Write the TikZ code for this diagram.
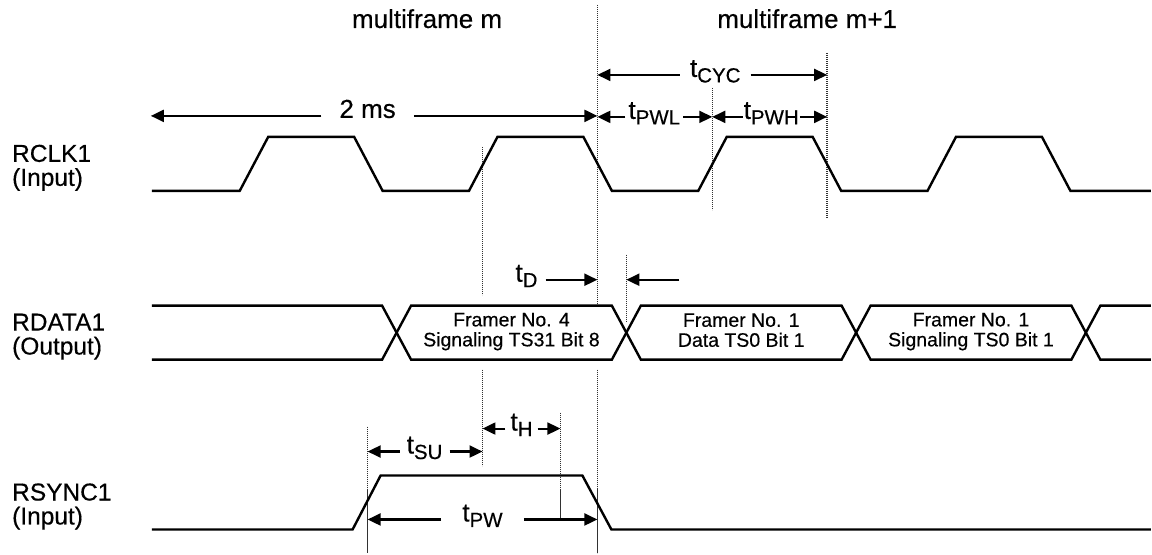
\documentclass[tikz,border=0pt]{standalone}
\usepackage{fontspec}
\setmainfont{Liberation Sans}[FakeBold=0.4]
\usepackage{tikz}
\usetikzlibrary{arrows.meta}
\definecolor{guide-grey}{RGB}{50,50,50}
\tikzstyle{sig}=[line width=2.4pt,line join=miter]
\tikzstyle{guide}=[line width=1.5pt,draw=guide-grey,dash pattern=on 1.2pt off 0.8pt]
\tikzstyle{dim}=[line width=2.1pt,-{Triangle[length=13pt,width=12pt]}]
\tikzstyle{big}=[font=\fontsize{26}{30}\selectfont,anchor=base]
\tikzstyle{tag}=[font=\fontsize{24.5}{24}\selectfont,align=left,anchor=west,inner sep=0pt]
\tikzstyle{cell}=[font=\fontsize{19.5}{20}\selectfont,align=center,inner sep=0pt]
\tikzstyle{tl}=[font=\fontsize{26}{30}\selectfont,anchor=base,inner ysep=0pt]
\newcommand{\tlab}[1]{t\raisebox{-5.5pt}{\fontsize{20.5}{20}\selectfont #1}}

\begin{document}
\begin{tikzpicture}[x=1pt,y=-1pt]
    \fill[white] (0,0) rectangle (1152,554);

    % guides
    \draw[guide] (598,5) -- (598,305) (598,370) -- (598,554);
    \draw[guide] (483,147) -- (483,295) (483,370) -- (483,466);
    \draw[guide] (713,88) -- (713,210);
    \draw[guide] (828,53) -- (828,218);
    \draw[guide] (627,255) -- (627,322);
    \draw[guide] (368,427) -- (368,554);
    \draw[guide] (561,413) -- (561,519);

    % signals
    \draw[sig] (152,191) \foreach \r in {240,469.5,699,928.5}
        { -- (\r,191) -- ({\r+28.5},137) -- ({\r+114.5},137) -- ({\r+143},191) } -- (1152,191);

    \draw[sig] (152,306) -- (382.5,306) -- (411.5,360) -- (612.5,360) -- (641.5,306)
        -- (842.5,306) -- (871.5,360) -- (1072.5,360) -- (1101.5,306) -- (1152,306);
    \draw[sig] (152,360) -- (382.5,360) -- (411.5,306) -- (612.5,306) -- (641.5,360)
        -- (842.5,360) -- (871.5,306) -- (1072.5,306) -- (1101.5,360) -- (1152,360);

    \draw[sig] (152,530) -- (353,530) -- (381,476) -- (583,476) -- (612,530) -- (1152,530);

    \node[tag] (rclk)  at (12,168) {RCLK1\\(Input)};
    \node[tag] (rdata) at (12,337) {RDATA1\\(Output)};
    \node[tag] (rsync) at (12,507) {RSYNC1\\(Input)};

    \node[big] (mfm) at (427.5,28) {multiframe m};
    \node[big] (mfn) at (808,28)   {multiframe m+1};

    \node[cell] (fr4)  at (512,332)   {Framer No. 4\\Signaling TS31 Bit 8};
    \node[cell] (fr1d) at (742,330.5) {Framer No. 1\\Data TS0 Bit 1};
    \node[cell] (fr1s) at (972,332)   {Framer No. 1\\Signaling TS0 Bit 1};

    % dimension ends
    \coordinate (msL)  at (151,116); \coordinate (msR)  at (598,116);
    \coordinate (cycL) at (598,75);  \coordinate (cycR) at (828,75);
    \coordinate (pwlL) at (598,117); \coordinate (pwlR) at (713,117);
    \coordinate (pwhL) at (713,117); \coordinate (pwhR) at (828,117);
    \coordinate (dR)   at (598,280); \coordinate (dL)   at (627,280);
    \coordinate (dEnd) at (680,280);
    \coordinate (suL)  at (368,452); \coordinate (suR)  at (483,452);
    \coordinate (hL)   at (483,429); \coordinate (hR)   at (561,429);
    \coordinate (pwL)  at (368,520); \coordinate (pwR)  at (598,520);

    \node[tl,inner xsep=18pt] (ms)  at (368,118) {2 ms};
    \node[tl,inner xsep=10pt] (cyc) at (716,77)  {\tlab{CYC}};
    \node[tl,inner xsep=3pt]  (pwl) at (655,119) {\tlab{PWL}};
    \node[tl,inner xsep=1pt]  (pwh) at (772,119) {\tlab{PWH}};
    \node[tl,inner xsep=8pt]  (td)  at (527,282) {\tlab{D}};
    \node[tl,inner xsep=7pt]  (tsu) at (425,454) {\tlab{SU}};
    \node[tl,inner xsep=5pt]  (th)  at (522,431) {\tlab{H}};
    \node[tl,inner xsep=21pt] (tpw) at (483,522) {\tlab{PW}};

    \draw[dim] (ms.west |- msL) -- (msL);
    \draw[dim] (ms.east |- msR) -- (msR);
    \draw[dim] (cyc.west |- cycL) -- (cycL);
    \draw[dim] (cyc.east |- cycR) -- (cycR);
    \draw[dim] (pwl.west |- pwlL) -- (pwlL);
    \draw[dim] (pwl.east |- pwlR) -- (pwlR);
    \draw[dim] (pwh.west |- pwhL) -- (pwhL);
    \draw[dim] (pwh.east |- pwhR) -- (pwhR);
    \draw[dim] (td.east |- dR) -- (dR);
    \draw[dim] (dEnd) -- (dL);
    \draw[dim] (tsu.west |- suL) -- (suL);
    \draw[dim] (tsu.east |- suR) -- (suR);
    \draw[dim] (th.west |- hL) -- (hL);
    \draw[dim] (th.east |- hR) -- (hR);
    \draw[dim] (tpw.west |- pwL) -- (pwL);
    \draw[dim] (tpw.east |- pwR) -- (pwR);

\end{tikzpicture}
\end{document}
